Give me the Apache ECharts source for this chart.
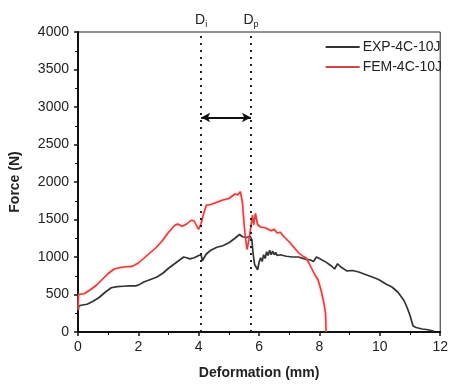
<!DOCTYPE html>
<html><head><meta charset="utf-8">
<script src="https://cdn.jsdelivr.net/npm/echarts@6/dist/echarts.min.js"></script>
<style>html,body{margin:0;padding:0;background:#fff}#c{width:451px;height:385px}</style>
</head><body><div id="c"></div>
<script>
const seriesNames = ['EXP-4C-10J', 'FEM-4C-10J'];
const expData = [[0,280],[0.03,350],[0.15,360],[0.3,370],[0.5,410],[0.7,460],[0.9,530],[1.1,590],[1.3,605],[1.5,610],[1.7,615],[1.9,615],[2.0,625],[2.2,670],[2.4,700],[2.6,730],[2.8,780],[3.0,850],[3.2,910],[3.4,970],[3.5,1000],[3.6,990],[3.7,975],[3.85,990],[4.0,1020],[4.08,1030],[4.12,950],[4.18,960],[4.25,1040],[4.4,1090],[4.6,1130],[4.8,1150],[5.0,1190],[5.2,1250],[5.35,1300],[5.45,1270],[5.6,1260],[5.7,1280],[5.76,1230],[5.8,1050],[5.85,900],[5.9,880],[5.95,830],[6.0,930],[6.05,990],[6.1,940],[6.15,1030],[6.2,980],[6.25,1070],[6.3,1020],[6.35,1090],[6.4,1030],[6.45,1080],[6.5,1030],[6.55,1060],[6.6,1020],[6.7,1030],[6.9,1010],[7.1,1000],[7.3,1000],[7.5,975],[7.7,960],[7.8,940],[7.9,1000],[8.0,980],[8.2,935],[8.4,880],[8.5,840],[8.6,910],[8.7,870],[8.9,815],[9.1,820],[9.3,800],[9.5,770],[9.7,740],[9.9,710],[10.0,690],[10.2,640],[10.4,600],[10.6,530],[10.8,420],[10.9,330],[11.0,220],[11.1,80],[11.2,60],[11.4,40],[11.6,30],[11.8,10]];
const femData = [[0,300],[0.02,500],[0.2,510],[0.4,560],[0.6,620],[0.8,700],[1.0,780],[1.2,840],[1.4,860],[1.6,870],[1.8,875],[2.0,920],[2.2,990],[2.4,1060],[2.6,1130],[2.8,1220],[3.0,1330],[3.2,1420],[3.3,1440],[3.45,1410],[3.6,1440],[3.75,1490],[3.85,1480],[3.95,1400],[4.0,1370],[4.08,1450],[4.15,1560],[4.25,1690],[4.4,1700],[4.6,1730],[4.8,1760],[5.0,1780],[5.2,1840],[5.3,1830],[5.38,1870],[5.45,1720],[5.5,1450],[5.55,1250],[5.6,1100],[5.65,1200],[5.72,1380],[5.78,1560],[5.82,1430],[5.88,1580],[5.95,1430],[6.05,1400],[6.2,1390],[6.4,1350],[6.5,1370],[6.6,1320],[6.7,1330],[6.85,1260],[7.0,1200],[7.15,1130],[7.3,1060],[7.45,1010],[7.55,990],[7.65,920],[7.75,840],[7.85,760],[7.95,700],[8.05,560],[8.15,380],[8.2,250],[8.22,0]];
const markerX = [4.08, 5.73];
const markerLabels = ['i', 'p'];
const arrowY = 2860;
const xTicks = [0, 2, 4, 6, 8, 10, 12];
const yTicks = [0, 500, 1000, 1500, 2000, 2500, 3000, 3500, 4000];

const chart = echarts.init(document.getElementById('c'));
const font = 'Liberation Sans, Arial, sans-serif';
chart.setOption({
  animation: false,
  grid: {left: 76, right: 3, top: 32, bottom: 52, show: true, borderColor: '#222', borderWidth: 1},
  legend: {
    right: 4, top: 35, orient: 'vertical', itemGap: 6, itemWidth: 34, itemHeight: 2,
    icon: 'rect', data: seriesNames,
    textStyle: {fontFamily: font, fontSize: 14, color: '#222', padding: [0, 0, 0, -2]}
  },
  xAxis: {
    type: 'value', min: xTicks[0], max: xTicks[xTicks.length - 1], interval: 2,
    name: 'Deformation (mm)', nameLocation: 'middle', nameGap: 34,
    nameTextStyle: {fontFamily: font, fontSize: 14, fontWeight: 'bold', color: '#222'},
    axisLine: {lineStyle: {color: '#111', width: 2}},
    axisTick: {show: true, inside: false, length: 4, lineStyle: {color: '#111', width: 1.5}},
    minorTick: {show: true, splitNumber: 2, length: 3, lineStyle: {color: '#111', width: 1}},
    axisLabel: {fontFamily: font, fontSize: 14, color: '#222', margin: 8, formatter: v => String(v)},
    splitLine: {show: false}
  },
  yAxis: {
    type: 'value', min: yTicks[0], max: yTicks[yTicks.length - 1], interval: 500,
    name: 'Force (N)', nameLocation: 'middle', nameGap: 56,
    nameTextStyle: {fontFamily: font, fontSize: 14, fontWeight: 'bold', color: '#222'},
    axisLine: {show: true, lineStyle: {color: '#111', width: 2}},
    axisTick: {show: true, inside: false, length: 4, lineStyle: {color: '#111', width: 1.5}},
    minorTick: {show: true, splitNumber: 2, length: 3, lineStyle: {color: '#111', width: 1}},
    axisLabel: {fontFamily: font, fontSize: 14, color: '#222', margin: 9, formatter: v => String(v)},
    splitLine: {show: false}
  },
  series: [
    {
      name: seriesNames[0], type: 'line', data: expData, showSymbol: false,
      lineStyle: {color: '#333', width: 1.7}, itemStyle: {color: '#333'}, z: 3,
      markLine: {
        silent: true, symbol: ['none', 'none'], animation: false,
        lineStyle: {color: '#222', type: [2, 5], width: 2},
        label: {
          show: true, position: 'end', distance: 3,
          formatter: p => '{a|D}{b|' + markerLabels[markerX.indexOf(p.value)] + '}',
          rich: {a: {fontFamily: font, fontSize: 14, color: '#222'}, b: {fontFamily: font, fontSize: 9, color: '#222', verticalAlign: 'bottom', padding: [8, 0, 0, 0]}}
        },
        data: markerX.map(v => ({xAxis: v}))
      }
    },
    {
      name: seriesNames[1], type: 'line', data: femData, showSymbol: false,
      lineStyle: {color: '#d44444', width: 1.6, shadowColor: 'rgba(230,120,120,0.6)', shadowBlur: 3}, itemStyle: {color: '#d44444'}, z: 4,
      markLine: {
        silent: true, symbol: ['arrow', 'arrow'], symbolSize: [7, 9], animation: false,
        lineStyle: {color: '#111', type: 'solid', width: 2},
        label: {show: false},
        data: [[{coord: [markerX[0], arrowY]}, {coord: [markerX[1], arrowY]}]]
      }
    }
  ]
});
</script></body></html>
